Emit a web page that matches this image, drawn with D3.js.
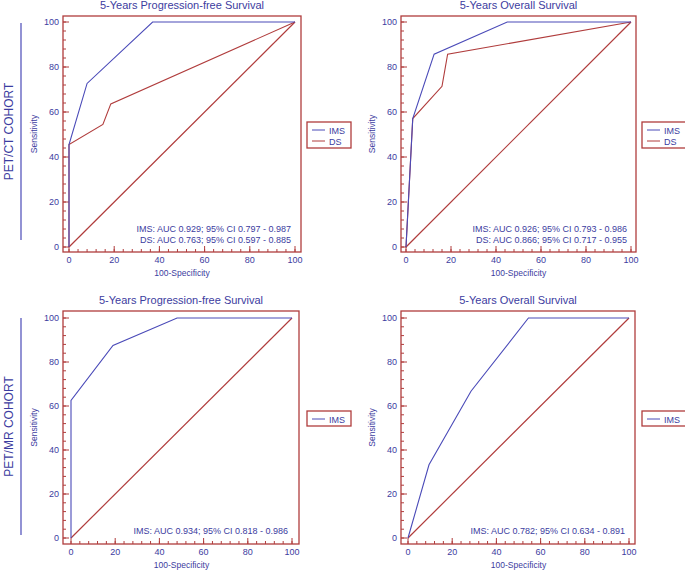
<!DOCTYPE html>
<html><head><meta charset="utf-8">
<script src="https://cdn.jsdelivr.net/npm/d3@7"></script>
<style>body{margin:0;background:#fff}text{font-family:Arial,"Liberation Sans",sans-serif}</style>
</head><body><svg id="c" width="685" height="570"></svg>
<script>
const titles = ["5-Years Progression-free Survival","5-Years Overall Survival","5-Years Progression-free Survival","5-Years Overall Survival"];
const cohortLabels = ["PET/CT COHORT","PET/MR COHORT"];
const tickValues = [0,20,40,60,80,100];
const p1IMS = [[0,0],[0,45.5],[8,72.7],[37,100],[100,100]];
const p1DS  = [[0,0],[0,45.5],[15,54.5],[18.5,63.6],[100,100]];
const p2IMS = [[0,0],[3,57.1],[12.5,85.7],[45,100],[100,100]];
const p2DS  = [[0,0],[3,57.1],[16,71.4],[18.5,85.7],[100,100]];
const p3IMS = [[0,0],[0,62.5],[19,87.5],[48,100],[100,100]];
const p4IMS = [[0,0],[9.5,33.3],[28.5,66.7],[54.5,100],[100,100]];
const diag = [[0,0],[100,100]];
const aucTexts = [
 ["IMS: AUC 0.929; 95% CI 0.797 - 0.987","DS: AUC 0.763; 95% CI 0.597 - 0.885"],
 ["IMS: AUC 0.926; 95% CI 0.793 - 0.986","DS: AUC 0.866; 95% CI 0.717 - 0.955"],
 ["IMS: AUC 0.934; 95% CI 0.818 - 0.986"],
 ["IMS: AUC 0.782; 95% CI 0.634 - 0.891"]];
const BLUE="#4a4ab8", RED="#b03c3c", TXT="#3c3ca0";
const svg=d3.select("#c");
const panels=[
 {f:[63,16,301,252],x:[69,295],y:[247,22],series:[[p1IMS,BLUE,"IMS"],[p1DS,RED,"DS"]],leg:[307,122]},
 {f:[401,16,636,252],x:[406,631],y:[247,22],series:[[p2IMS,BLUE,"IMS"],[p2DS,RED,"DS"]],leg:[642,122]},
 {f:[63,311,299,544],x:[71,292],y:[538,318],series:[[p3IMS,BLUE,"IMS"]],leg:[307,411]},
 {f:[401,311,635,544],x:[408,629],y:[538,318],series:[[p4IMS,BLUE,"IMS"]],leg:[642,411]}];
panels.forEach((p,i)=>{
 const g=svg.append("g");
 const x=d3.scaleLinear().domain([0,100]).range(p.x);
 const y=d3.scaleLinear().domain([0,100]).range(p.y);
 g.append("rect").attr("x",p.f[0]).attr("y",p.f[1]).attr("width",p.f[2]-p.f[0]).attr("height",p.f[3]-p.f[1]).attr("fill","none").attr("stroke",RED).attr("stroke-width",1.3);
 const minor=d3.range(0,101,4);
 g.selectAll(".mx").data(minor).join("line").attr("class","mx").attr("x1",d=>x(d)).attr("x2",d=>x(d)).attr("y1",p.f[3]).attr("y2",p.f[3]-3).attr("stroke",RED);
 g.selectAll(".my").data(minor).join("line").attr("class","my").attr("y1",d=>y(d)).attr("y2",d=>y(d)).attr("x1",p.f[0]).attr("x2",p.f[0]+3).attr("stroke",RED);
 g.selectAll(".Mx").data(tickValues).join("line").attr("class","Mx").attr("x1",d=>x(d)).attr("x2",d=>x(d)).attr("y1",p.f[3]).attr("y2",p.f[3]-6).attr("stroke",RED);
 g.selectAll(".My").data(tickValues).join("line").attr("class","My").attr("y1",d=>y(d)).attr("y2",d=>y(d)).attr("x1",p.f[0]).attr("x2",p.f[0]+6).attr("stroke",RED);
 g.selectAll(".tx").data(tickValues).join("text").attr("class","tx").attr("x",d=>x(d)).attr("y",p.f[3]+11).attr("text-anchor","middle").attr("font-size",9).attr("fill",TXT).text(d=>d);
 g.selectAll(".ty").data(tickValues).join("text").attr("class","ty").attr("x",p.f[0]-4).attr("y",d=>y(d)+3).attr("text-anchor","end").attr("font-size",9).attr("fill",TXT).text(d=>d);
 g.append("text").attr("x",(p.x[0]+p.x[1])/2).attr("y",p.f[3]+24).attr("text-anchor","middle").attr("font-size",8.5).attr("fill",TXT).text("100-Specificity");
 g.append("text").attr("transform",`translate(${p.f[0]-26},${(p.f[1]+p.f[3])/2}) rotate(-90)`).attr("text-anchor","middle").attr("font-size",8.5).attr("fill",TXT).text("Sensitivity");
 g.append("text").attr("x",(p.f[0]+p.f[2])/2).attr("y",p.f[1]-7).attr("text-anchor","middle").attr("font-size",11).attr("fill",TXT).text(titles[i]);
 const line=d3.line().x(d=>x(d[0])).y(d=>y(d[1]));
 g.append("path").attr("d",line(diag)).attr("fill","none").attr("stroke",RED).attr("stroke-width",1.2);
 p.series.slice().reverse().forEach(s=>g.append("path").attr("d",line(s[0])).attr("fill","none").attr("stroke",s[1]).attr("stroke-width",1.1));
 aucTexts[i].forEach((t,k)=>g.append("text").attr("x",p.x[1]-4).attr("y",p.y[0]-(aucTexts[i].length-1-k)*11-4).attr("text-anchor","end").attr("font-size",9).attr("fill",TXT).text(t));
 const lh=p.series.length*11+4;
 g.append("rect").attr("x",p.leg[0]).attr("y",p.leg[1]).attr("width",44).attr("height",lh).attr("fill","none").attr("stroke",RED).attr("stroke-width",1.3);
 p.series.forEach((s,k)=>{
  const yy=p.leg[1]+8+k*11;
  g.append("line").attr("x1",p.leg[0]+5).attr("x2",p.leg[0]+18).attr("y1",yy).attr("y2",yy).attr("stroke",s[1]);
  g.append("text").attr("x",p.leg[0]+22).attr("y",yy+3.5).attr("font-size",9).attr("fill",TXT).text(s[2]);
 });
});
[[23,240],[318,535]].forEach((r,k)=>{
 svg.append("line").attr("x1",21).attr("x2",21).attr("y1",r[0]).attr("y2",r[1]).attr("stroke",BLUE).attr("stroke-width",1.2);
 svg.append("text").attr("transform",`translate(13,${(r[0]+r[1])/2}) rotate(-90)`).attr("text-anchor","middle").attr("font-size",12).attr("fill",TXT).text(cohortLabels[k]);
});
</script></body></html>
